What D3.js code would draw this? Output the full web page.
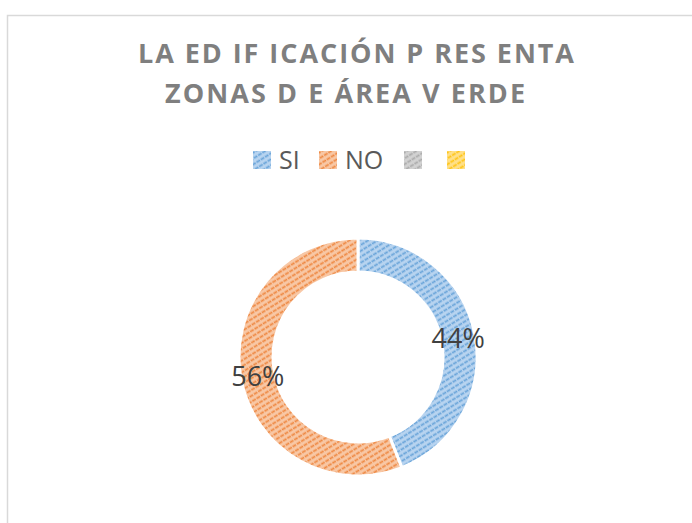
<!DOCTYPE html>
<html>
<head>
<meta charset="utf-8">
<script src="https://cdn.jsdelivr.net/npm/d3@7"></script>
<style>
  body { margin: 0; background: #fff; }
  svg { display: block; }
</style>
</head>
<body>
<svg id="chart"></svg>
<script>
// Data
const categories = ['SI', 'NO', '', ''];
const values = [44, 56, 0, 0];
const colors = ['#5b9bd5', '#ed7d31', '#a5a5a5', '#ffc000'];
const tints = ['#b8d4f0', '#f8c8a6', '#d2d2d2', '#ffe08a'];
const titleLines = ['LA ED IF ICACIÓN P RES ENTA', 'ZONAS D E ÁREA V ERDE'];

const width = 692, height = 523;
const svg = d3.select('#chart')
  .attr('width', width)
  .attr('height', height);

// Chart border
svg.append('rect')
  .attr('x', 7.5)
  .attr('y', 15.5)
  .attr('width', width)
  .attr('height', height)
  .attr('fill', 'none')
  .attr('stroke', '#d9d9d9')
  .attr('stroke-width', 1.5);

// Hatch patterns
const defs = svg.append('defs');
colors.forEach((c, i) => {
  const p = defs.append('pattern')
    .attr('id', `hatch${i}`)
    .attr('patternUnits', 'userSpaceOnUse')
    .attr('width', 5)
    .attr('height', 5)
    .attr('patternTransform', 'rotate(58)');
  p.append('rect')
    .attr('width', 5)
    .attr('height', 5)
    .attr('fill', tints[i]);
  p.append('line')
    .attr('x1', 1.5).attr('y1', 0)
    .attr('x2', 1.5).attr('y2', 5)
    .attr('stroke', c)
    .attr('stroke-width', 1.8)
    .attr('stroke-dasharray', '3 1')
    .attr('opacity', 0.85);
});

// Title
const title = svg.append('g')
  .attr('fill', '#7f7f7f')
  .style('font-family', '"Open Sans", sans-serif')
  .style('font-weight', 'bold')
  .style('font-size', '27px');

title.append('text')
  .attr('x', 138)
  .attr('y', 63)
  .attr('textLength', 436)
  .attr('lengthAdjust', 'spacing')
  .text(titleLines[0]);

title.append('text')
  .attr('x', 165)
  .attr('y', 103)
  .attr('textLength', 360)
  .attr('lengthAdjust', 'spacing')
  .text(titleLines[1]);

// Legend
const legendX = d3.scaleOrdinal()
  .domain(d3.range(categories.length))
  .range([253, 319, 404, 447]);

const legend = svg.append('g')
  .selectAll('g')
  .data(categories)
  .enter()
  .append('g')
    .attr('transform', (d, i) => `translate(${legendX(i)},151)`);

legend.append('rect')
  .attr('width', 18)
  .attr('height', 18)
  .attr('fill', (d, i) => `url(#hatch${i})`);

legend.append('text')
  .attr('x', 26)
  .attr('y', 18)
  .attr('fill', '#595959')
  .style('font-family', '"Open Sans", sans-serif')
  .style('font-size', '25px')
  .text(d => d);

// Donut
const cx = 358, cy = 357;
const outerR = 119, innerR = 85;

const pie = d3.pie().sort(null).value(d => d);
const arc = d3.arc().innerRadius(innerR).outerRadius(outerR);
const labelArc = d3.arc().innerRadius(102).outerRadius(102);

const arcs = pie(values);
const donut = svg.append('g')
  .attr('transform', `translate(${cx},${cy})`);

donut.selectAll('path')
  .data(arcs.filter(d => d.value > 0))
  .enter()
  .append('path')
    .attr('d', arc)
    .attr('fill', d => `url(#hatch${d.index})`)
    .attr('stroke', '#fff')
    .attr('stroke-width', 3);

donut.selectAll('text')
  .data(arcs.filter(d => d.value > 0))
  .enter()
  .append('text')
    .attr('transform', d => `translate(${labelArc.centroid(d)})`)
    .attr('text-anchor', 'middle')
    .attr('dy', '0.37em')
    .attr('fill', '#404040')
    .style('font-family', '"Open Sans", sans-serif')
    .style('font-size', '27px')
    .text(d => `${d.value}%`);
</script>
</body>
</html>
